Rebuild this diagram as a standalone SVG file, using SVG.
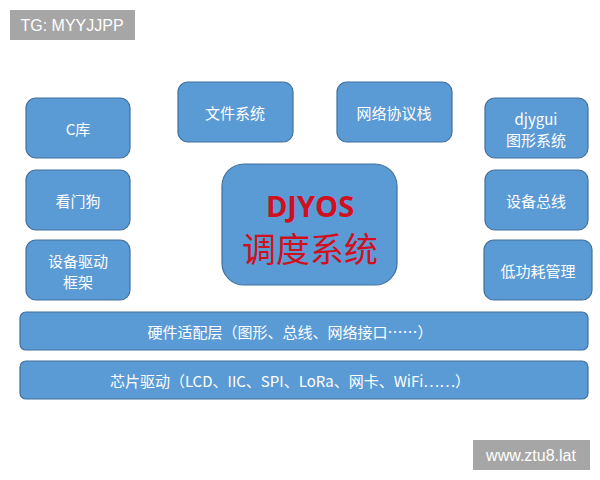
<svg xmlns="http://www.w3.org/2000/svg" width="600" height="480" viewBox="0 0 600 480">
<style>
.b{fill:#5b9bd5;stroke:#41719c;stroke-width:1.2}
.t{fill:#fff;font-family:"Noto Sans CJK SC","Liberation Sans",sans-serif;font-size:15px;text-anchor:middle;dominant-baseline:central}
.w{fill:#fff;font-family:"Liberation Sans",sans-serif;font-size:16px;text-anchor:middle;dominant-baseline:central}
</style>
<rect width="600" height="480" fill="#fff"/>
<g id="tg"><rect x="10" y="10" width="125" height="30" fill="#a6a6a6"/><text class="w" x="72" y="25">TG: MYYJJPP</text></g>
<g id="clib"><rect class="b" x="26" y="98" width="104" height="60" rx="10"/><text class="t" x="78" y="128">C库</text></g>
<g id="fs"><rect class="b" x="178" y="82" width="115" height="60" rx="10"/><text class="t" x="235" y="112">文件系统</text></g>
<g id="net"><rect class="b" x="337" y="82" width="115" height="60" rx="10"/><text class="t" x="394" y="112">网络协议栈</text></g>
<g id="gui"><rect class="b" x="485" y="98" width="103" height="60" rx="10"/><text class="t" x="536" y="118">djygui</text><text class="t" x="536" y="139">图形系统</text></g>
<g id="wdt"><rect class="b" x="26" y="170" width="104" height="60" rx="10"/><text class="t" x="78" y="200">看门狗</text></g>
<g id="drv"><rect class="b" x="26" y="240" width="104" height="60" rx="10"/><text class="t" x="78" y="260">设备驱动</text><text class="t" x="78" y="281">框架</text></g>
<g id="bus"><rect class="b" x="485" y="170" width="103" height="60" rx="10"/><text class="t" x="536" y="200">设备总线</text></g>
<g id="pwr"><rect class="b" x="484" y="240" width="108" height="60" rx="10"/><text class="t" x="538" y="270">低功耗管理</text></g>
<g id="core"><rect class="b" x="222" y="164" width="175" height="121" rx="22"/>
<text x="310" y="205" text-anchor="middle" dominant-baseline="central" font-family="'Open Sans','Noto Sans',sans-serif" font-weight="bold" font-size="29" fill="#d0101e">DJYOS</text>
<text x="310" y="247" text-anchor="middle" dominant-baseline="central" font-family="'Noto Sans CJK SC',sans-serif" font-size="34" fill="#d0101e">调度系统</text></g>
<g id="hal"><rect class="b" x="20" y="312" width="568" height="38" rx="6"/><text class="t" x="290" y="331">硬件适配层（图形、总线、网络接口……）</text></g>
<g id="chip"><rect class="b" x="20" y="361" width="568" height="38" rx="6"/><text class="t" x="290" y="380">芯片驱动（LCD、IIC、SPI、LoRa、网卡、WiFi……）</text></g>
<g id="wm"><rect x="473" y="440" width="117" height="30" fill="#a6a6a6"/><text class="w" x="531" y="455">www.ztu8.lat</text></g>
<g id="connectors"/>
</svg>
